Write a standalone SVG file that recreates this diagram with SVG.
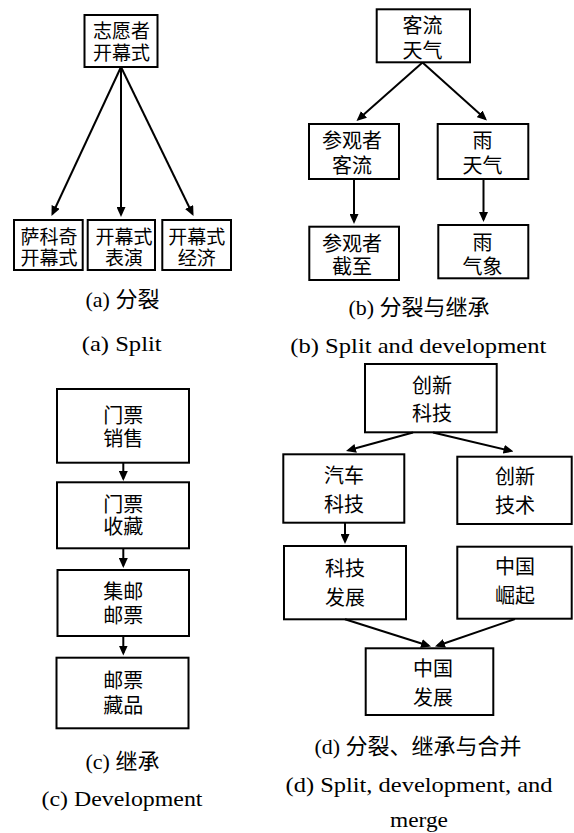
<svg xmlns="http://www.w3.org/2000/svg" width="574" height="833" viewBox="0 0 574 833">
<style>
.box{fill:#fff;stroke:#000;stroke-width:2}
.nt{font-family:"Noto Sans CJK SC","Noto Sans",sans-serif;font-size:20px;text-anchor:middle;fill:#000}
.sm{font-size:19px}
.cap{font-family:"Liberation Serif","Noto Sans CJK SC",serif;font-size:22px;text-anchor:middle;fill:#000}
.edge{stroke:#000;stroke-width:2;fill:none;marker-end:url(#ah)}
</style>
<defs>
<marker id="ah" markerUnits="userSpaceOnUse" markerWidth="10" markerHeight="9" refX="7.5" refY="4.5" orient="auto">
<path d="M0,0 L10,4.5 L0,9 z" fill="#000"/>
</marker>
</defs>
<rect width="574" height="833" fill="#fff"/>

<!-- (a) -->
<g id="a_top"><rect class="box" x="84.5" y="15" width="73" height="52"/><text class="nt sm"><tspan x="121.5" y="38">志愿者</tspan><tspan x="121.5" y="60">开幕式</tspan></text></g>
<g id="a_b1"><rect class="box" x="14" y="220" width="68.7" height="50"/><text class="nt sm"><tspan x="49" y="243.5">萨科奇</tspan><tspan x="49" y="265">开幕式</tspan></text></g>
<g id="a_b2"><rect class="box" x="87.7" y="220" width="67.3" height="50"/><text class="nt sm"><tspan x="124" y="243.5">开幕式</tspan><tspan x="124" y="265">表演</tspan></text></g>
<g id="a_b3"><rect class="box" x="162.3" y="220" width="68.7" height="50"/><text class="nt sm"><tspan x="196.7" y="243.5">开幕式</tspan><tspan x="196.7" y="265">经济</tspan></text></g>

<!-- (b) -->
<g id="b_top"><rect class="box" x="376.7" y="9.3" width="93.3" height="53"/><text class="nt"><tspan x="422.5" y="32.5">客流</tspan><tspan x="422.5" y="58">天气</tspan></text></g>
<g id="b_l1"><rect class="box" x="309" y="124" width="90" height="55"/><text class="nt"><tspan x="352" y="147.5">参观者</tspan><tspan x="352" y="172.5">客流</tspan></text></g>
<g id="b_r1"><rect class="box" x="437.7" y="124" width="90.6" height="55"/><text class="nt"><tspan x="482.5" y="147.5">雨</tspan><tspan x="482.5" y="172.5">天气</tspan></text></g>
<g id="b_l2"><rect class="box" x="309.3" y="226.7" width="89.7" height="53.3"/><text class="nt"><tspan x="352" y="251">参观者</tspan><tspan x="352" y="274">截至</tspan></text></g>
<g id="b_r2"><rect class="box" x="438.3" y="225" width="90" height="53.3"/><text class="nt"><tspan x="482.5" y="250">雨</tspan><tspan x="482.5" y="274">气象</tspan></text></g>

<!-- (c) -->
<g id="c_1"><rect class="box" x="57" y="389" width="132" height="73.7"/><text class="nt"><tspan x="123.3" y="422.5">门票</tspan><tspan x="123.3" y="446">销售</tspan></text></g>
<g id="c_2"><rect class="box" x="57" y="482.3" width="132" height="66"/><text class="nt"><tspan x="123.3" y="511.5">门票</tspan><tspan x="123.3" y="534">收藏</tspan></text></g>
<g id="c_3"><rect class="box" x="57.5" y="570" width="131.5" height="66"/><text class="nt"><tspan x="123.3" y="599">集邮</tspan><tspan x="123.3" y="622.5">邮票</tspan></text></g>
<g id="c_4"><rect class="box" x="56.5" y="657.7" width="132" height="70.6"/><text class="nt"><tspan x="123.3" y="687.5">邮票</tspan><tspan x="123.3" y="712.5">藏品</tspan></text></g>

<!-- (d) -->
<g id="d_top"><rect class="box" x="365" y="364" width="131.7" height="68.3"/><text class="nt"><tspan x="432" y="392.5">创新</tspan><tspan x="432" y="421">科技</tspan></text></g>
<g id="d_l1"><rect class="box" x="283.3" y="454.3" width="121" height="68.4"/><text class="nt"><tspan x="344" y="482.5">汽车</tspan><tspan x="344" y="511.5">科技</tspan></text></g>
<g id="d_r1"><rect class="box" x="457.3" y="456.7" width="114.4" height="67.3"/><text class="nt"><tspan x="515" y="484">创新</tspan><tspan x="515" y="513">技术</tspan></text></g>
<g id="d_l2"><rect class="box" x="284" y="546" width="122" height="73.3"/><text class="nt"><tspan x="345" y="576">科技</tspan><tspan x="345" y="605">发展</tspan></text></g>
<g id="d_r2"><rect class="box" x="457.3" y="546.7" width="114.4" height="72"/><text class="nt"><tspan x="515" y="574">中国</tspan><tspan x="515" y="602.5">崛起</tspan></text></g>
<g id="d_bot"><rect class="box" x="365.7" y="648.3" width="127.6" height="66.7"/><text class="nt"><tspan x="433" y="676">中国</tspan><tspan x="433" y="705">发展</tspan></text></g>

<!-- connectors -->
<g id="connectors">
<line class="edge" x1="121" y1="67" x2="52.56" y2="213.73"/>
<line class="edge" x1="121" y1="67" x2="121" y2="214.5"/>
<line class="edge" x1="121" y1="67" x2="192.41" y2="213.75"/>
<line class="edge" x1="422.5" y1="62.5" x2="358.37" y2="119.34"/>
<line class="edge" x1="422.5" y1="62.5" x2="485.14" y2="118.83"/>
<line class="edge" x1="354" y1="179" x2="354" y2="221.5"/>
<line class="edge" x1="483.5" y1="179" x2="483.5" y2="219.5"/>
<line class="edge" x1="123.3" y1="462.7" x2="123.3" y2="478.5"/>
<line class="edge" x1="123.3" y1="548.3" x2="123.3" y2="565.5"/>
<line class="edge" x1="123.3" y1="636" x2="123.3" y2="653"/>
<line class="edge" x1="413" y1="432.5" x2="348.41" y2="450.33"/>
<line class="edge" x1="433" y1="432.5" x2="511.07" y2="450.93"/>
<line class="edge" x1="345" y1="522.7" x2="345" y2="541.5"/>
<line class="edge" x1="345" y1="619.3" x2="428.62" y2="645.75"/>
<line class="edge" x1="515" y1="619" x2="437.36" y2="645.69"/>
</g>

<!-- captions -->
<text class="cap" x="122.5" y="307">(a) 分裂</text>
<text class="cap" x="121.7" y="351" textLength="80" lengthAdjust="spacingAndGlyphs">(a) Split</text>
<text class="cap" x="419" y="315">(b) 分裂与继承</text>
<text class="cap" x="418.3" y="353" textLength="256" lengthAdjust="spacingAndGlyphs">(b) Split and development</text>
<text class="cap" x="122.5" y="769">(c) 继承</text>
<text class="cap" x="122" y="806" textLength="161" lengthAdjust="spacingAndGlyphs">(c) Development</text>
<text class="cap" x="418" y="754">(d) 分裂、继承与合并</text>
<text class="cap" x="419" y="792" textLength="267" lengthAdjust="spacingAndGlyphs">(d) Split, development, and</text>
<text class="cap" x="419" y="827" textLength="58" lengthAdjust="spacingAndGlyphs">merge</text>
</svg>
